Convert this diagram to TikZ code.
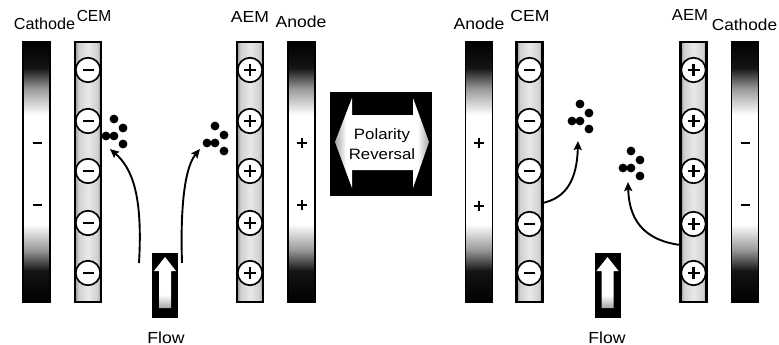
\documentclass[tikz,border=0pt]{standalone}
\usepackage{fontspec}
\setmainfont{Liberation Sans}
\usetikzlibrary{arrows.meta}

% electrode bars: dark at both ends, white in the middle
\pgfdeclareverticalshading{electrodeshade}{100bp}{color(0bp)=(black); color(25bp)=(black); color(31bp)=(black!92); color(35bp)=(black!40); color(40bp)=(white); color(61bp)=(white); color(66bp)=(black!40); color(70bp)=(black!92); color(75bp)=(black); color(100bp)=(black)}
% membranes: stippled grey edges, lighter core
\pgfdeclarehorizontalshading{membraneshade}{100bp}{color(0bp)=(black!42); color(25bp)=(black!42); color(32bp)=(black!18); color(50bp)=(black!9); color(68bp)=(black!18); color(75bp)=(black!42); color(100bp)=(black!42)}
% double arrow of the reversal box, grey towards the tips
\pgfdeclarehorizontalshading{reversalshade}{100bp}{color(0bp)=(black!35); color(25bp)=(black!35); color(31bp)=(white); color(69bp)=(white); color(75bp)=(black!35); color(100bp)=(black!35)}
% flow arrow, grey towards its foot
\pgfdeclareverticalshading{flowshade}{100bp}{color(0bp)=(black!35); color(25bp)=(black!35); color(38bp)=(white); color(100bp)=(white)}

\tikzset{
  electrode/.style={draw, line width=1.5pt, shading=electrodeshade, minimum width=27pt, minimum height=260pt, inner sep=0pt},
  membrane/.style={draw, line width=2.2pt, shading=membraneshade, minimum width=26pt, minimum height=260pt, inner sep=0pt},
  site/.style={circle, draw, line width=1.7pt, fill=white, minimum size=24.5pt, inner sep=0pt},
  lbl/.style={font=\fontsize{16}{19}\selectfont, inner sep=0pt, anchor=base, xscale=1.1},
  sign/.style={line width=1.7pt},
  ion/.style={fill=black},
  path arrow/.style={line width=1.9pt, -{Stealth[length=9pt, width=8pt, inset=1.5pt]}},
  negsite/.pic={\node[site] (-c) {}; \draw[sign, line width=2pt] (-5.5,0) -- (5.5,0);},
  possite/.pic={\node[site] (-c) {}; \draw[sign, line width=2.1pt] (-6,0) -- (6,0) (0,-6) -- (0,6);},
  minus/.pic={\coordinate (-c); \draw[sign] (-4.5,0) -- (4.5,0);},
  plus/.pic={\coordinate (-c); \draw[sign, line width=1.8pt] (-5,0) -- (5,0) (0,-5) -- (0,5);},
  molecule/.pic={
    \coordinate (-c);
    \fill[ion] (8,-17) circle[radius=4.4];
    \fill[ion] (17,-8) circle[radius=4.4];
    \fill[ion] (0,0) circle[radius=4.4];
    \fill[ion] (8,0) circle[radius=4.4];
    \fill[ion] (17,8) circle[radius=4.4];
  },
  flowbox/.pic={
    \node[fill=black, minimum width=26pt, minimum height=65pt, inner sep=0pt] (-box) {};
    \shade[shading=flowshade] (0,-28.5) -- (11,-14.5) -- (6,-14.5) -- (6,22.5) -- (-6,22.5) -- (-6,-14.5) -- (-11,-14.5) -- cycle;
  }
}

\begin{document}
\begin{tikzpicture}[x=1pt, y=-1pt]
\useasboundingbox[fill=white] (0,0) rectangle (779,345);

% ---------------- normal polarity ----------------
\node[electrode] (cathL) at (36.5,172) {};
\node[membrane] (cemL) at (88,172) {};
\node[membrane] (aemL) at (250,172) {};
\node[electrode] (anodeL) at (301.5,172) {};

\foreach \y [count=\i] in {70,121,171,223,273} {
  \pic (cemL\i) at (88,\y) {negsite};
  \pic (aemL\i) at (250,\y) {possite};
}
\pic (cathLm1) at (37,143) {minus};
\pic (cathLm2) at (37,205) {minus};
\pic (anodeLp1) at (302,143) {plus};
\pic (anodeLp2) at (302,205) {plus};

\node[lbl, xscale=0.92] (tCathL) at (44.5,30) {Cathode};
\node[lbl, xscale=0.88] (tCemL) at (94,22) {CEM};
\node[lbl] (tAemL) at (250,23) {AEM};
\node[lbl] (tAnodeL) at (301,28) {Anode};

\pic (molL1) at (106,136) {molecule};
\pic (molL2) at (207,143) {molecule};

\pic (flowL) at (165,285.5) {flowbox};
\node[lbl] (tFlowL) at (166,343) {Flow};

\coordinate (srcL1) at (139,263);
\coordinate (dstL1) at (110,149);
\coordinate (srcL2) at (182,263);
\coordinate (dstL2) at (200,149);
\draw[path arrow] (srcL1) .. controls (143,195) and (132,168) .. (dstL1);
\draw[path arrow] (srcL2) .. controls (180,200) and (186,166) .. (dstL2);

% ---------------- polarity reversal ----------------
\node[fill=black, minimum width=102pt, minimum height=104pt, inner sep=0pt] (revbox) at (381,144) {};
\shade[shading=reversalshade] (335,142) -- (352,98) -- (352,115) -- (413,115) -- (413,98)
  -- (429,142) -- (413,188) -- (413,170) -- (352,170) -- (352,188) -- cycle;
\node[font=\fontsize{15}{20}\selectfont, align=center, inner sep=0pt, xscale=1.12] (revtext) at (382,144) {Polarity\\Reversal};

% ---------------- reversed polarity ----------------
\node[electrode] (anodeR) at (479,172) {};
\node[membrane] (cemR) at (529.5,172) {};
\node[membrane] (aemR) at (693.5,172) {};
\node[electrode] (cathR) at (745,172) {};

\foreach \y [count=\i] in {70,121,171,224,273} {
  \pic (cemR\i) at (529.5,\y) {negsite};
  \pic (aemR\i) at (693.5,\y) {possite};
}
\pic (anodeRp1) at (479,143) {plus};
\pic (anodeRp2) at (479,206) {plus};
\pic (cathRm1) at (745,143) {minus};
\pic (cathRm2) at (745,205) {minus};

\node[lbl] (tAnodeR) at (479,30) {Anode};
\node[lbl] (tCemR) at (530,22) {CEM};
\node[lbl, xscale=0.95] (tAemR) at (690,21) {AEM};
\node[lbl, xscale=0.98] (tCathR) at (744.5,31) {Cathode};

\pic (molR1) at (572,121) {molecule};
\pic (molR2) at (623,168) {molecule};

\pic (flowR) at (607.5,285.5) {flowbox};
\node[lbl] (tFlowR) at (607,343) {Flow};

\coordinate (srcR1) at (542.5,203);
\coordinate (dstR1) at (578,141);
\coordinate (srcR2) at (680.5,245);
\coordinate (dstR2) at (628,182);
\draw[path arrow] (srcR1) .. controls (566,198) and (577,180) .. (dstR1);
\draw[path arrow] (srcR2) .. controls (642,240) and (629,218) .. (dstR2);
\end{tikzpicture}
\end{document}
